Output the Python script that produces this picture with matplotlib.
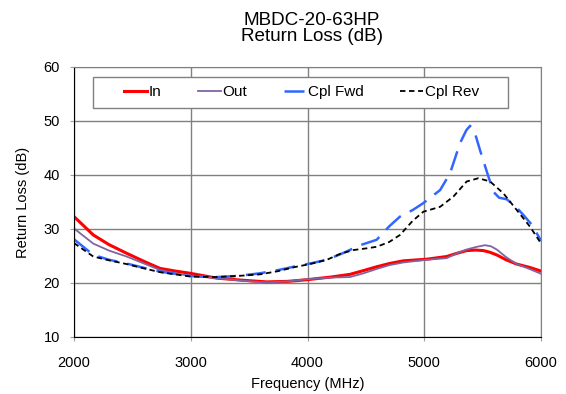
import numpy as np
import matplotlib.pyplot as plt
from matplotlib.patches import Rectangle

plt.rcParams['font.family'] = ['Liberation Sans', 'DejaVu Sans']

freq_in = [2000, 2165, 2300, 2451, 2600, 2737, 2870, 2994, 3222, 3450, 3651, 3830, 3993, 4200, 4364, 4480, 4592, 4700, 4820, 5020, 5191, 5280, 5362, 5440, 5505, 5560, 5620, 5700, 5791, 5900, 6000]
rl_in = [32.3, 28.9, 27.1, 25.5, 24.0, 22.7, 22.2, 21.8, 20.9, 20.5, 20.2, 20.3, 20.6, 21.1, 21.6, 22.3, 23.0, 23.6, 24.1, 24.4, 24.9, 25.5, 26.0, 26.1, 26.0, 25.7, 25.2, 24.3, 23.5, 22.9, 22.2]

freq_out = [2000, 2165, 2300, 2451, 2600, 2737, 2870, 2994, 3222, 3450, 3651, 3830, 3993, 4200, 4364, 4480, 4592, 4700, 4820, 5020, 5191, 5280, 5362, 5450, 5520, 5570, 5620, 5700, 5791, 5900, 6000]
rl_out = [30.1, 27.3, 26.0, 24.9, 23.6, 22.4, 21.8, 21.3, 20.9, 20.4, 20.1, 20.3, 20.7, 21.0, 21.1, 21.8, 22.6, 23.3, 23.8, 24.3, 24.6, 25.5, 26.2, 26.7, 27.0, 26.8, 26.2, 24.8, 23.5, 22.6, 21.7]

freq_fwd = [2000, 2165, 2300, 2451, 2600, 2737, 2994, 3222, 3400, 3594, 3750, 3880, 4020, 4166, 4300, 4451, 4592, 4700, 4792, 4900, 4992, 5135, 5220, 5306, 5360, 5392, 5430, 5477, 5540, 5591, 5640, 5706, 5780, 5848, 5920, 6000]
rl_fwd = [28.1, 25.2, 24.3, 23.6, 22.8, 22.1, 21.3, 21.1, 21.3, 21.8, 22.4, 23.0, 23.6, 24.3, 25.5, 27.0, 28.0, 30.5, 32.3, 33.5, 34.8, 37.2, 40.3, 45.9, 48.3, 49.1, 48.0, 44.6, 40.3, 36.9, 35.8, 35.5, 34.2, 32.6, 30.8, 27.8]

freq_rev = [2000, 2165, 2300, 2451, 2600, 2737, 2994, 3222, 3400, 3594, 3750, 3880, 4020, 4166, 4280, 4394, 4500, 4592, 4700, 4792, 4900, 4992, 5135, 5249, 5363, 5463, 5563, 5677, 5792, 5906, 6000]
rl_rev = [27.4, 24.9, 24.2, 23.5, 22.7, 22.0, 21.2, 21.1, 21.3, 21.6, 22.2, 22.9, 23.5, 24.3, 25.4, 26.1, 26.4, 26.7, 27.6, 28.9, 31.5, 33.2, 34.1, 36.0, 38.8, 39.4, 38.8, 36.6, 33.5, 30.4, 27.3]

fig = plt.figure(figsize=(5.66, 3.94), dpi=100)
ax = fig.add_axes([0.1307, 0.1447, 0.8253, 0.6853])

ax.plot(freq_in, rl_in, color='#ff0000', lw=2.2, label='In')
ax.plot(freq_out, rl_out, color='#8064a2', lw=1.3, label='Out')
ax.plot(freq_fwd, rl_fwd, color='#3366ff', lw=1.8, dashes=(8, 4), label='Cpl Fwd')
ax.plot(freq_rev, rl_rev, color='black', lw=1.3, dashes=(3, 2), label='Cpl Rev')

ax.set_xlim(2000, 6000)
ax.set_ylim(10, 60)
ax.set_xticks([2000, 3000, 4000, 5000, 6000])
ax.set_yticks([10, 20, 30, 40, 50, 60])
ax.grid(True, color='#808080', lw=1)
ax.tick_params(length=3, color='#a0a0a0', labelsize=10.5)
ax.tick_params(axis='x', pad=11)
ax.tick_params(axis='y', pad=7)
for s in ['top', 'right']:
    ax.spines[s].set_color('#808080')
for s in ['left', 'bottom']:
    ax.spines[s].set_color('black')

ax.set_xlabel('Frequency (MHz)', fontsize=10.5, labelpad=5)
ax.set_ylabel('Return Loss (dB)', fontsize=10.5, labelpad=10)
fig.text(0.551, 0.949, 'MBDC-20-63HP', fontsize=13.6, ha='center', va='center')
fig.text(0.551, 0.9086, 'Return Loss (dB)', fontsize=13.6, ha='center', va='center')

box = Rectangle((0.0407, 0.848), 0.8886, 0.115, transform=ax.transAxes, facecolor='white',
                edgecolor='#808080', lw=1, zorder=4, clip_on=False)
ax.add_patch(box)
leg = ax.legend(loc='center', bbox_to_anchor=(0.487, 0.9056), ncol=4, fontsize=11,
                frameon=False, handlelength=1.5, handletextpad=0.1, columnspacing=2.4)
leg.set_zorder(5)

fig.savefig('out.png', dpi=100)
